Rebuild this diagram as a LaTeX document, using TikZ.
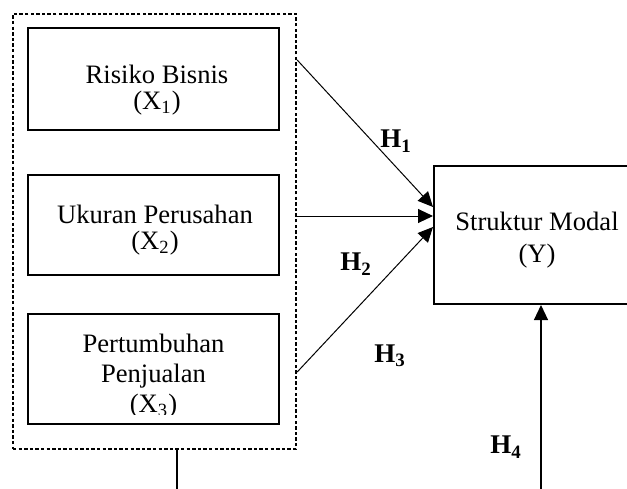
\documentclass[tikz,border=0pt]{standalone}
\usepackage{fontspec}
\setmainfont{Liberation Serif}
\usetikzlibrary{arrows.meta,positioning}

\tikzset{
  varbox/.style={draw, line width=1pt, minimum width=125.5pt, inner sep=0pt},
  grpbox/.style={draw, line width=1.2pt, dash pattern=on 1.7pt off 1.1pt, inner sep=0pt},
  vartext/.style={align=center, inner sep=0pt, anchor=base},
  hyp/.style={font=\fontsize{13.5}{16}\selectfont\bfseries, inner sep=0pt},
  link/.style={-{Triangle[length=7.5pt,width=7pt]}, line width=0.5pt},
  stem/.style={line width=0.6pt}
}

\begin{document}
\begin{tikzpicture}[x=0.5pt,y=-0.5pt]
    \useasboundingbox (0,0) rectangle (627,488);
    \clip (0,0) rectangle (627,488);
    %boxes
    \node[grpbox, minimum width=141.5pt, minimum height=217.5pt] (grp) at (154.5,231.5) {};
    \node[varbox, minimum height=51pt] (x1) at (153.5,79) {};
    \node[varbox, minimum height=50pt] (x2) at (153.5,225) {};
    \node[varbox, minimum height=55pt] (x3) at (153.5,369) {};
    \node[varbox, minimum width=103pt, minimum height=69pt] (ym) at (537,235) {};
    %texts
    \node[vartext, font=\fontsize{13.3}{13}\selectfont] (t1) at (157,109) {Risiko Bisnis\\(X\textsubscript{1})};
    \node[vartext, font=\fontsize{13.3}{13}\selectfont] (t2) at (155,249) {Ukuran Perusahan\\(X\textsubscript{2})};
    \begin{scope}
      \clip (x3.north west) rectangle ([yshift=5.5pt]x3.south east);
      \node[vartext, font=\fontsize{13.3}{15}\selectfont] (t3) at (153.5,412) {Pertumbuhan\\Penjualan\\(X\textsubscript{3})};
    \end{scope}
    \node[vartext, font=\fontsize{13.3}{16}\selectfont] (ty) at (537,262) {Struktur Modal\\(Y)};
    %hypotheses
    \node[hyp] (h1) at (396,141) {H\textsubscript{1}};
    \node[hyp] (h2) at (356,264) {H\textsubscript{2}};
    \node[hyp] (h3) at (390,356) {H\textsubscript{3}};
    \node[hyp] (h4) at (506,447) {H\textsubscript{4}};
    %edges
    \draw[link] ([yshift=85.75pt]grp.east) -- ([yshift=14pt]ym.west);
    \draw[link] ([yshift=7.75pt]grp.east) -- ([yshift=9.5pt]ym.west);
    \draw[link] ([yshift=-70.25pt]grp.east) -- ([yshift=4pt]ym.west);
    \coordinate (gbot) at (177,500);
    \coordinate (ybot) at (541,500);
    \draw[stem] (grp.south -| gbot) -- (gbot);
    \draw[link, line width=0.6pt] (ybot) -- (ym.south -| ybot);
\end{tikzpicture}
\end{document}
